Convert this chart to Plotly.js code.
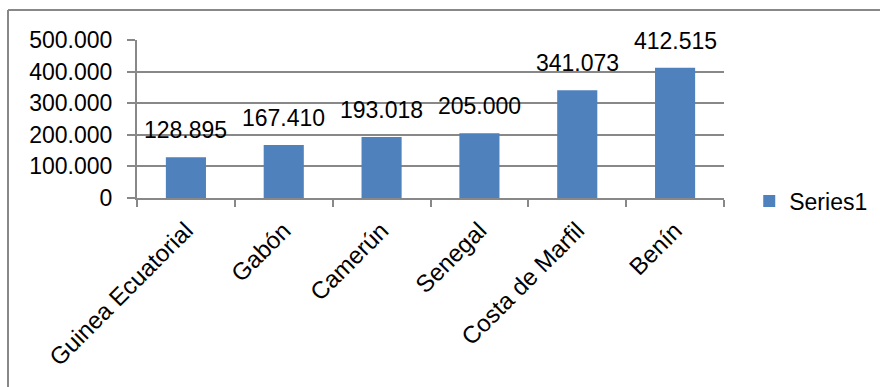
<!DOCTYPE html>
<html>
<head>
<meta charset="utf-8">
<script src="https://cdn.plot.ly/plotly-3.0.1.min.js"></script>
<style>
html,body{margin:0;padding:0;background:#fff;}
#chart{width:883px;height:387px;}
</style>
</head>
<body>
<div id="chart"></div>
<script>
const categories = ["Guinea Ecuatorial", "Gabón", "Camerún", "Senegal", "Costa de Marfil", "Benín"];
const values = [128895, 167410, 193018, 205000, 341073, 412515];
const seriesName = "Series1";
const yTicks = [0, 100000, 200000, 300000, 400000, 500000];

const FONT = "Liberation Sans, Arial, sans-serif";
function thousands(v){
  return String(v).replace(/\B(?=(\d{3})+(?!\d))/g, ".");
}

const trace = {
  type: "bar",
  x: categories,
  y: values,
  name: seriesName,
  marker: {color: "#4F81BD"},
  showlegend: true,
  hoverinfo: "skip"
};

const annotations = categories.map((c, i) => ({
  x: c, y: values[i], xref: "x", yref: "y",
  text: thousands(values[i]),
  showarrow: false,
  yanchor: "middle",
  xanchor: "center",
  yshift: 27,
  font: {family: FONT, size: 23, color: "#000"}
}));

const layout = {
  width: 883, height: 387,
  margin: {l: 137, r: 159, t: 40, b: 189, autoexpand: false},
  paper_bgcolor: "#fff",
  plot_bgcolor: "#fff",
  separators: ",.",
  bargap: 0.59,
  font: {family: FONT, size: 23, color: "#000"},
  xaxis: {
    type: "category",
    automargin: false,
    tickangle: -45,
    ticks: "outside",
    tickson: "boundaries",
    ticklen: 7,
    tickcolor: "#888",
    tickwidth: 2,
    ticklabelstandoff: 7,
    showline: true,
    linecolor: "#888",
    linewidth: 2,
    showgrid: false,
    tickfont: {family: FONT, size: 24, color: "#000"},
    fixedrange: true
  },
  yaxis: {
    automargin: false,
    range: [0, 500000],
    tickvals: yTicks,
    ticktext: yTicks.map(thousands),
    ticks: "outside",
    ticklen: 8,
    tickcolor: "#888",
    tickwidth: 2,
    ticklabelstandoff: 10,
    showline: true,
    linecolor: "#888",
    linewidth: 2,
    showgrid: true,
    gridcolor: "#888",
    gridwidth: 2,
    zeroline: false,
    tickfont: {family: FONT, size: 23, color: "#000"},
    fixedrange: true
  },
  legend: {
    x: 1.043, xanchor: "left",
    y: -0.02, yanchor: "middle",
    font: {family: FONT, size: 23, color: "#000"},
    bgcolor: "rgba(0,0,0,0)"
  },
  annotations: annotations,
  shapes: [
    {type: "line", xref: "paper", yref: "paper", x0: (8-137)/587, x1: (880-137)/587, y0: (198-10)/158, y1: (198-10)/158, line: {color: "#888", width: 2}},
    {type: "line", xref: "paper", yref: "paper", x0: (8-137)/587, x1: (8-137)/587, y0: (198-10)/158, y1: (198-400)/158, line: {color: "#888", width: 2}}
  ]
};

Plotly.newPlot("chart", [trace], layout, {displayModeBar: false, staticPlot: true});
</script>
</body>
</html>
